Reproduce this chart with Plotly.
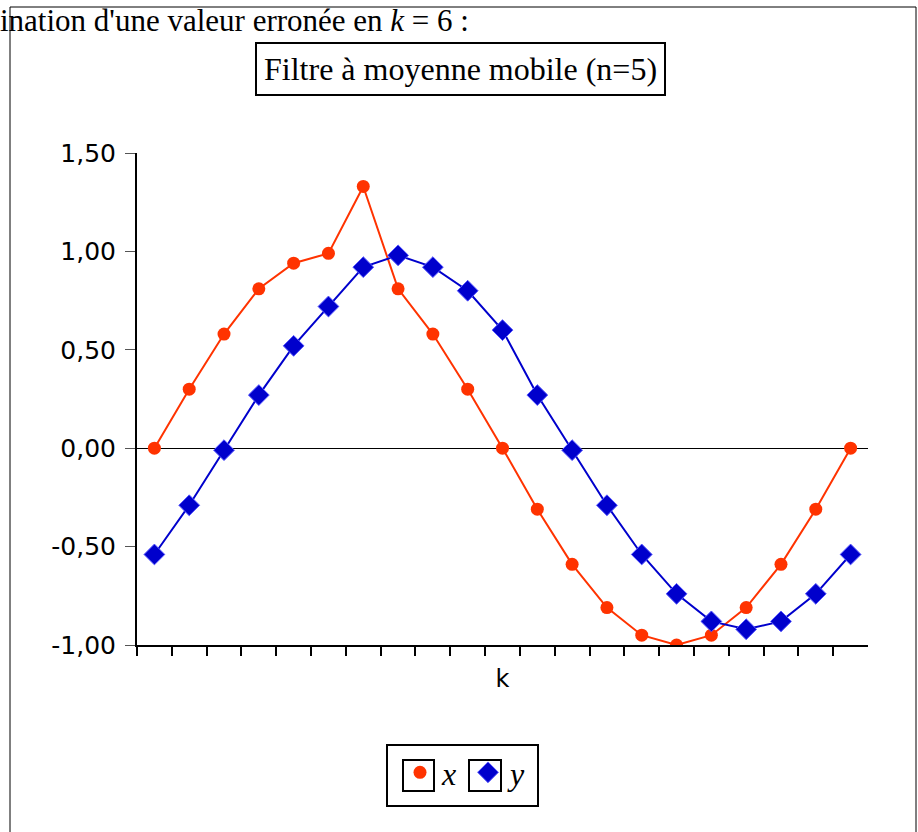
import plotly.graph_objects as go

k = list(range(21))
x_vals = [0.00, 0.30, 0.58, 0.81, 0.94, 0.99, 1.33, 0.81, 0.58, 0.30, 0.00,
          -0.31, -0.59, -0.81, -0.95, -1.00, -0.95, -0.81, -0.59, -0.31, 0.00]
y_vals = [-0.54, -0.29, -0.01, 0.27, 0.52, 0.72, 0.92, 0.98, 0.92, 0.80, 0.60,
          0.27, -0.01, -0.29, -0.54, -0.74, -0.88, -0.92, -0.88, -0.74, -0.54]
ytick_vals = [-1.0, -0.5, 0.0, 0.5, 1.0, 1.5]
ytick_text = ["-1,00", "-0,50", "0,00", "0,50", "1,00", "1,50"]

RED = "#FF3300"
BLUE = "#0000CC"

W, H = 918, 832
L, R, T, B = 137, 50, 153, 187
PW, PH = W - L - R, H - T - B

def px(p):
    return (p - L) / PW

def py(p):
    return (H - B - p) / PH

fig = go.Figure()
fig.add_trace(go.Scatter(x=k, y=x_vals, mode="lines+markers", showlegend=False,
                         line=dict(color=RED, width=2),
                         marker=dict(symbol="circle", size=13, color=RED)))
fig.add_trace(go.Scatter(x=k, y=y_vals, mode="lines+markers", showlegend=False,
                         line=dict(color=BLUE, width=2),
                         marker=dict(symbol="diamond", size=16, color=BLUE,
                                     line=dict(color="#5555FF", width=1))))
# legend-only entries
fig.add_trace(go.Scatter(x=[None], y=[None], mode="markers", name="<i>x</i>",
                         marker=dict(symbol="circle", size=13, color=RED)))
fig.add_trace(go.Scatter(x=[None], y=[None], mode="markers", name="<i>y</i>",
                         marker=dict(symbol="diamond", size=16, color=BLUE,
                                     line=dict(color="#5555FF", width=1))))

shapes = [
    # outer frame
    dict(type="rect", xref="paper", yref="paper", x0=px(10), x1=px(916),
         y0=py(840), y1=py(7), line=dict(color="black", width=1)),
    # legend frame
    dict(type="rect", xref="paper", yref="paper", x0=px(387), x1=px(538),
         y0=py(806), y1=py(745), line=dict(color="black", width=2)),
    # boxes around legend symbols
    dict(type="rect", xref="paper", yref="paper", x0=px(403), x1=px(434),
         y0=py(791), y1=py(760), line=dict(color="black", width=2)),
    dict(type="rect", xref="paper", yref="paper", x0=px(469), x1=px(501),
         y0=py(791), y1=py(760), line=dict(color="black", width=2)),
]

annotations = [
    dict(text="ination d'une valeur erronée en <i>k</i> = 6 :", xref="paper", yref="paper",
         x=px(-2), y=py(1), xanchor="left", yanchor="top", showarrow=False,
         font=dict(family="Liberation Serif", size=31, color="black")),
    dict(text="Filtre à moyenne mobile (n=5)", xref="paper", yref="paper",
         x=px(460), y=py(69), xanchor="center", yanchor="middle", showarrow=False,
         font=dict(family="Liberation Serif", size=32, color="black"),
         bordercolor="black", borderwidth=2, borderpad=7, bgcolor="white"),
]

fig.update_layout(
    width=W, height=H,
    margin=dict(l=L, r=R, t=T, b=B),
    paper_bgcolor="white", plot_bgcolor="white",
    font=dict(family="DejaVu Sans", size=22, color="black"),
    shapes=shapes, annotations=annotations,
    legend=dict(orientation="h", x=px(458), xanchor="center", y=py(745), yanchor="top",
                borderwidth=0, bgcolor="rgba(0,0,0,0)",
                font=dict(family="Liberation Serif", size=32, color="black"),
                itemwidth=34, entrywidth=11, entrywidthmode="pixels", indentation=8),
    xaxis=dict(range=[-0.5, 20.5], tickvals=[i - 0.5 for i in range(21)],
               showticklabels=False, ticks="outside", ticklen=9, tickwidth=2,
               tickcolor="black", showline=True, linecolor="black", linewidth=2,
               showgrid=False, zeroline=False,
               title=dict(text="k", font=dict(family="DejaVu Sans", size=24), standoff=15)),
    yaxis=dict(range=[-1.0, 1.5], tickvals=ytick_vals, ticktext=ytick_text,
               ticks="outside", ticklen=10, tickwidth=1, tickcolor="#555555",
               ticklabelstandoff=4,
               showline=True, linecolor="black", linewidth=2, showgrid=False,
               zeroline=True, zerolinecolor="black", zerolinewidth=1,
               tickfont=dict(family="DejaVu Sans", size=25)),
)

fig.write_html("out.html")
